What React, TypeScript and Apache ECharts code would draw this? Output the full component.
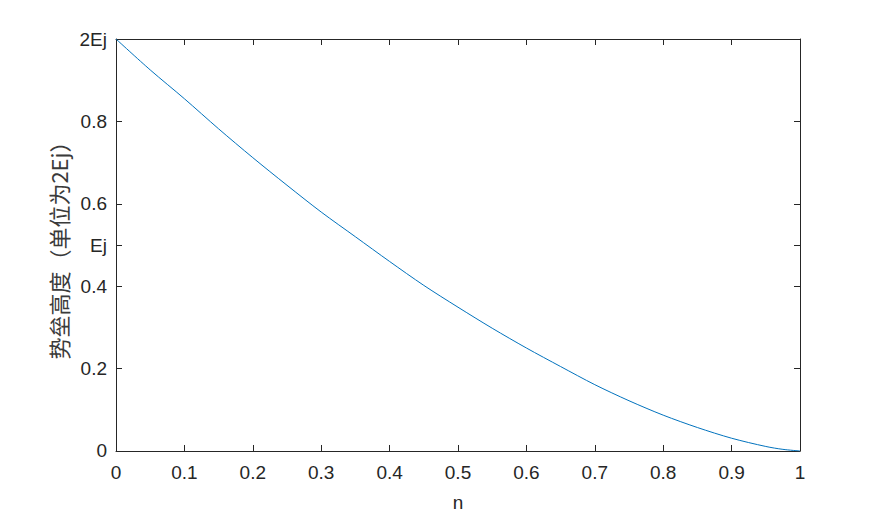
import React, { useEffect, useRef } from "react";
import * as echarts from "echarts";

const nValues = [0, 0.05, 0.1, 0.15, 0.2, 0.25, 0.3, 0.35, 0.4, 0.45, 0.5, 0.55, 0.6, 0.65, 0.7, 0.75, 0.8, 0.85, 0.9, 0.95, 0.975, 1];
const barrier = [1.0, 0.925, 0.855, 0.782, 0.712, 0.645, 0.58, 0.52, 0.46, 0.402, 0.349, 0.298, 0.25, 0.205, 0.161, 0.122, 0.087, 0.057, 0.031, 0.011, 0.004, 0];

const xTickValues = [0, 0.1, 0.2, 0.3, 0.4, 0.5, 0.6, 0.7, 0.8, 0.9, 1];
const yTickValues = [0, 0.2, 0.4, 0.5, 0.6, 0.8, 1];
const yTickLabels = ["0", "0.2", "0.4", "Ej", "0.6", "0.8", "2Ej"];

const xName = "n";
const yName = "势垒高度（单位为2Ej）";

const FONT = "'Liberation Sans', Arial, 'Noto Sans CJK SC', sans-serif";
const TXT = "#262626";

export default function App() {
  const ref = useRef<HTMLDivElement>(null);
  useEffect(() => {
    if (!ref.current) return;
    const chart = echarts.init(ref.current, undefined, { renderer: "svg" });
    const fmtX = (v: number) => {
      const r = Math.round(v * 10) / 10;
      return String(r);
    };
    const fmtY = (v: number) => {
      const i = yTickValues.findIndex((t) => Math.abs(t - v) < 1e-9);
      return i >= 0 ? yTickLabels[i] : "";
    };
    const lineStyle = { color: TXT, width: 1 };
    const baseX = {
      type: "value" as const,
      min: 0,
      max: 1,
      interval: 0.1,
      axisLine: { show: true, onZero: false, lineStyle },
      splitLine: { show: false },
    };
    const baseY = {
      type: "value" as const,
      min: 0,
      max: 1,
      axisLine: { show: true, onZero: false, lineStyle },
      splitLine: { show: false },
    };
    chart.setOption({
      animation: false,
      backgroundColor: "#ffffff",
      textStyle: { fontFamily: FONT },
      grid: { left: 116, right: 85, top: 39, bottom: 65, containLabel: false },
      xAxis: [
        {
          ...baseX,
          position: "bottom",
          name: xName,
          nameLocation: "middle",
          nameGap: 42,
          nameTextStyle: { color: TXT, fontSize: 19, fontFamily: FONT },
          axisTick: { show: true, inside: true, length: 6, lineStyle, customValues: xTickValues },
          axisLabel: {
            show: true,
            color: TXT,
            fontSize: 19,
            fontFamily: FONT,
            margin: 12,
            customValues: xTickValues,
            formatter: fmtX,
          },
        },
        {
          ...baseX,
          position: "top",
          axisTick: { show: true, inside: true, length: 6, lineStyle, customValues: xTickValues },
          axisLabel: { show: false },
        },
      ],
      yAxis: [
        {
          ...baseY,
          position: "left",
          name: yName,
          nameLocation: "middle",
          nameGap: 46,
          nameRotate: 90,
          nameTextStyle: { color: "#3a3a3a", fontSize: 22, fontFamily: "'Noto Sans CJK SC', 'Liberation Sans', sans-serif" },
          axisTick: { show: true, inside: true, length: 6, lineStyle, customValues: yTickValues },
          axisLabel: {
            show: true,
            color: TXT,
            fontSize: 19,
            fontFamily: FONT,
            margin: 9,
            customValues: yTickValues,
            formatter: fmtY,
          },
        },
        {
          ...baseY,
          position: "right",
          axisTick: { show: true, inside: true, length: 6, lineStyle, customValues: yTickValues },
          axisLabel: { show: false },
        },
      ],
      series: [
        {
          type: "line",
          data: nValues.map((n, i) => [n, barrier[i]]),
          smooth: 0.3,
          showSymbol: false,
          symbol: "none",
          lineStyle: { color: "#0072BD", width: 1 },
          xAxisIndex: 0,
          yAxisIndex: 0,
        },
      ],
    });
    return () => chart.dispose();
  }, []);
  return (
    <div
      ref={ref}
      style={{ position: "fixed", left: 0, top: 0, width: 885, height: 517, background: "#fff" }}
    />
  );
}
